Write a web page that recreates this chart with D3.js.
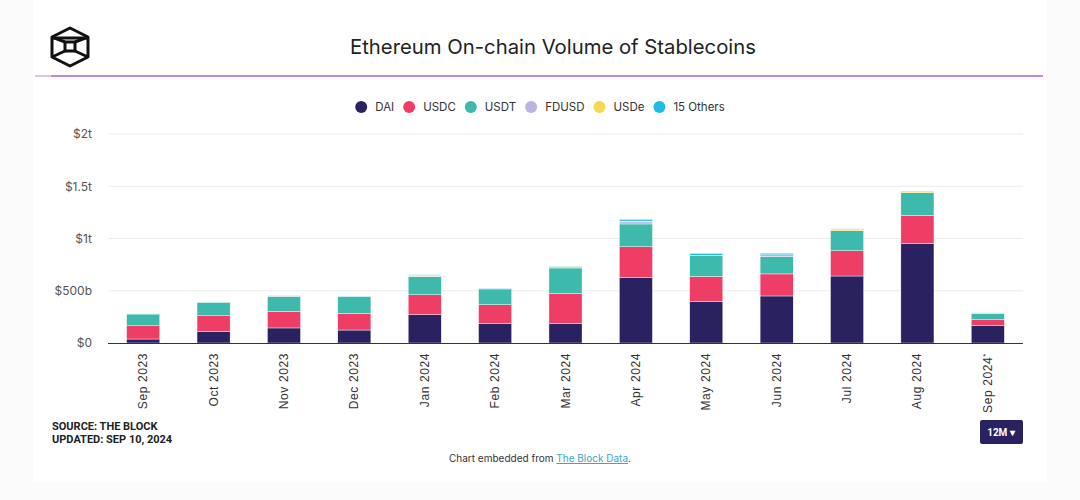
<!DOCTYPE html>
<html>
<head>
<meta charset="utf-8">
<script src="https://cdn.jsdelivr.net/npm/d3@7"></script>
<style>
  html, body { margin: 0; padding: 0; background: #fbfbfb; }
  svg { display: block; }
</style>
</head>
<body>
<svg id="chart" width="1080" height="500"></svg>
<script>
// months on the x axis
const months = ['Sep 2023', 'Oct 2023', 'Nov 2023', 'Dec 2023', 'Jan 2024', 'Feb 2024',
  'Mar 2024', 'Apr 2024', 'May 2024', 'Jun 2024', 'Jul 2024', 'Aug 2024', 'Sep 2024'];

// monthly volume, billions of USD
const dai    = [38, 111, 144, 124, 271, 188, 188, 628, 398, 450, 641, 953, 166];
const usdc   = [127, 150, 159, 159, 191, 179, 287, 294, 239, 211, 242, 268, 57];
const usdt   = [112, 127, 144, 160, 172, 150, 243, 217, 198, 166, 191, 217, 61];
const fdusd  = [0, 0, 3, 0, 5, 2, 0, 20, 5, 18, 0, 0, 2];
const usde   = [0, 0, 0, 0, 10, 0, 14, 8, 0, 0, 14, 11, 0];
const others = [2, 2, 4, 3, 4, 3, 3, 16, 17, 14, 4, 4, 3];

const seriesNames = ['DAI', 'USDC', 'USDT', 'FDUSD', 'USDe', '15 Others'];
const seriesColors = ['#2a2160', '#ef3e66', '#3dbaab', '#bab4e0', '#f6d94c', '#1fbde3'];
const seriesValues = [dai, usdc, usdt, fdusd, usde, others];

const yTicks = [0, 500, 1000, 1500, 2000];
const yTickLabels = ['$0', '$500b', '$1t', '$1.5t', '$2t'];

const svg = d3.select('#chart');
const font = 'Inter, "Noto Sans", sans-serif';

// white card
svg.append('rect')
  .attr('x', 33).attr('y', 0)
  .attr('width', 1014).attr('height', 482)
  .attr('fill', '#fff');

// logo
const logo = svg.append('g')
  .attr('fill', 'none')
  .attr('stroke', '#111')
  .attr('stroke-width', 3)
  .attr('stroke-linejoin', 'round');
logo.append('path')
  .attr('d', 'M70,28 L88,37 L88,57 L70,66 L52,57 L52,37 Z');
logo.append('rect')
  .attr('x', 65).attr('y', 42).attr('width', 10).attr('height', 9);
logo.append('path')
  .attr('d', 'M52,37 L65,42 M88,37 L75,42 M52,57 L65,51 M88,57 L75,51');
logo.append('path').attr('d', 'M53,38 L87,38');

// title
svg.append('text')
  .attr('x', 553).attr('y', 54)
  .attr('text-anchor', 'middle')
  .attr('font-family', font)
  .attr('font-size', 20.3)
  .attr('fill', '#222')
  .text('Ethereum On-chain Volume of Stablecoins');

// purple rule
svg.append('rect')
  .attr('x', 35).attr('y', 75).attr('width', 1008).attr('height', 2)
  .attr('fill', '#c08bd8');
svg.append('rect')
  .attr('x', 35).attr('y', 75).attr('width', 16).attr('height', 2)
  .attr('fill', '#dcc6e6');

// legend
const legend = svg.append('g');
let lx = 0;
seriesNames.forEach((name, i) => {
  const item = legend.append('g').attr('transform', `translate(${lx},0)`);
  item.append('circle')
    .attr('cx', 6).attr('cy', 0).attr('r', 6)
    .attr('fill', seriesColors[i]);
  const t = item.append('text')
    .attr('x', 20).attr('y', 4)
    .attr('font-family', font)
    .attr('font-size', 11.5)
    .attr('fill', '#333')
    .text(name);
  lx += 20 + t.node().getComputedTextLength() + 9;
});
legend.attr('transform', `translate(${540 - (lx - 9) / 2},107)`);

// scales
const margin = {left: 108, right: 1023, top: 134, bottom: 343};
const x = d3.scaleBand()
  .domain(months)
  .range([margin.left, margin.right])
  .paddingInner(0.53)
  .paddingOuter(0.265);
const y = d3.scaleLinear()
  .domain([0, 2000])
  .range([margin.bottom, margin.top]);

// grid
svg.append('g')
  .selectAll('line')
  .data(yTicks.slice(1))
  .join('line')
  .attr('x1', margin.left).attr('x2', margin.right)
  .attr('y1', d => y(d)).attr('y2', d => y(d))
  .attr('stroke', '#ececec')
  .attr('stroke-width', 1);

// y axis
const yAxis = svg.append('g')
  .attr('transform', 'translate(92,0)')
  .call(d3.axisLeft(y).tickValues(yTicks).tickSize(0).tickPadding(0)
    .tickFormat((d, i) => yTickLabels[i]));
yAxis.select('.domain').remove();
yAxis.selectAll('text')
  .attr('font-family', font)
  .attr('font-size', 12)
  .attr('fill', '#555');

// stacked bars
const table = months.map((m, i) => {
  const row = {month: m};
  seriesNames.forEach((s, k) => { row[s] = seriesValues[k][i]; });
  return row;
});
const stack = d3.stack().keys(seriesNames)(table);

svg.append('g')
  .selectAll('g')
  .data(stack)
  .join('g')
  .attr('fill', (d, i) => seriesColors[i])
  .selectAll('rect')
  .data(d => d)
  .join('rect')
  .attr('x', d => x(d.data.month))
  .attr('width', x.bandwidth())
  .attr('y', d => y(d[1]))
  .attr('height', d => Math.max(0, y(d[0]) - y(d[1])))
  .attr('stroke', '#fff')
  .attr('stroke-width', d => (d[1] - d[0]) > 0 ? 0.4 : 0);

// x axis
svg.append('line')
  .attr('x1', margin.left).attr('x2', margin.right)
  .attr('y1', margin.bottom + 0.5).attr('y2', margin.bottom + 0.5)
  .attr('stroke', '#333')
  .attr('stroke-width', 1);

const xAxis = svg.append('g')
  .attr('transform', `translate(0,${margin.bottom})`)
  .call(d3.axisBottom(x).tickSize(0).tickPadding(0));
xAxis.select('.domain').remove();
xAxis.selectAll('text')
  .attr('font-family', '"Liberation Sans", Arial, sans-serif')
  .attr('font-size', 12)
  .attr('letter-spacing', 0.6)
  .attr('fill', '#333')
  .attr('text-anchor', 'end')
  .attr('dy', 0)
  .attr('transform', 'translate(4,10) rotate(-90)')
  .each(function(d, i) {
    if (i === months.length - 1) {
      d3.select(this).append('tspan')
        .attr('dy', -4)
        .attr('font-size', 8)
        .text('*');
    }
  });

// footer
const footer = svg.append('g')
  .attr('font-family', 'Roboto, "Liberation Sans", sans-serif')
  .attr('font-weight', 'bold')
  .attr('font-size', 11)
  .attr('fill', '#222');
footer.append('text').attr('x', 52).attr('y', 430).text('SOURCE: THE BLOCK');
footer.append('text').attr('x', 52).attr('y', 443).text('UPDATED: SEP 10, 2024');

// range button
svg.append('rect')
  .attr('x', 980).attr('y', 420).attr('width', 43).attr('height', 24)
  .attr('rx', 2)
  .attr('fill', '#2a2160');
svg.append('text')
  .attr('x', 1001).attr('y', 436)
  .attr('text-anchor', 'middle')
  .attr('font-family', 'Roboto, sans-serif')
  .attr('font-weight', 'bold')
  .attr('font-size', 10)
  .attr('fill', '#fff')
  .text('12M ▾');

// embed note
const note = svg.append('text')
  .attr('x', 540).attr('y', 462)
  .attr('text-anchor', 'middle')
  .attr('font-family', font)
  .attr('font-size', 10)
  .attr('fill', '#333');
note.append('tspan').text('Chart embedded from ');
note.append('tspan')
  .attr('fill', '#3aa7c4')
  .attr('text-decoration', 'underline')
  .text('The Block Data');
note.append('tspan').text('.');
</script>
</body>
</html>
